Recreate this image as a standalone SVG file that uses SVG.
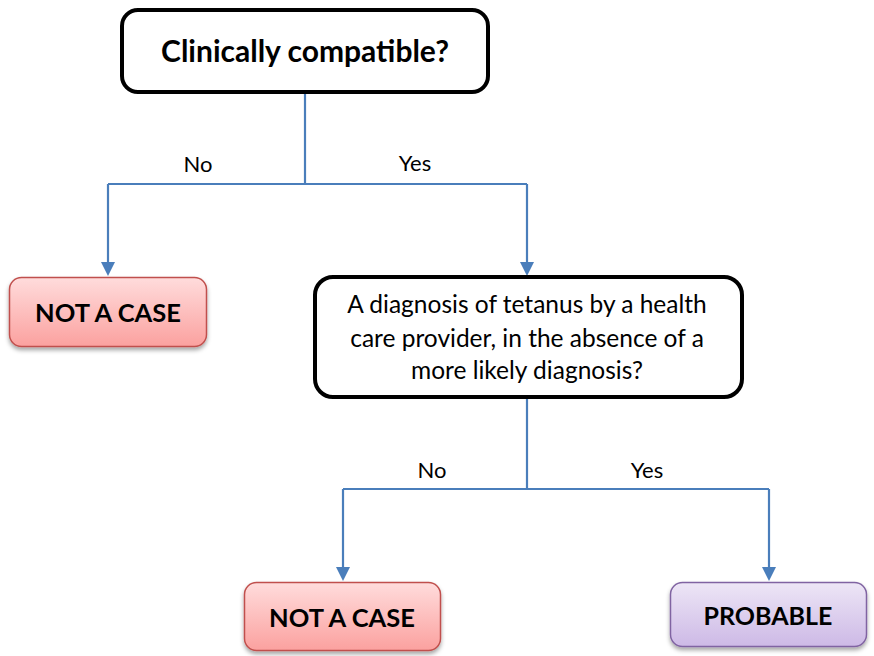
<svg xmlns="http://www.w3.org/2000/svg" width="874" height="656" viewBox="0 0 874 656">
<style>
.dec{fill:#fff;stroke:#000;stroke-width:4}
.t{font-family:Lato,"Liberation Sans",sans-serif;fill:#000;text-anchor:middle}
.b{font-weight:bold}
.lbl{font-size:22px}
.conn{fill:none;stroke:#4a7ebb;stroke-width:2.2}
.red{fill:url(#gr);stroke:#c0504d;stroke-width:1.5}
.pur{fill:url(#gp);stroke:#8064a2;stroke-width:1.5}
</style>
<defs>
<linearGradient id="gr" x1="0" y1="0" x2="0" y2="1"><stop offset="0" stop-color="#ffdcdc"/><stop offset="1" stop-color="#fba19f"/></linearGradient>
<linearGradient id="gp" x1="0" y1="0" x2="0" y2="1"><stop offset="0" stop-color="#ede6f6"/><stop offset="1" stop-color="#cdb9e6"/></linearGradient>
<filter id="sh" x="-10%" y="-10%" width="130%" height="140%"><feDropShadow dx="0" dy="3" stdDeviation="2" flood-color="#000" flood-opacity="0.35"/></filter>
</defs>
<rect width="874" height="656" fill="#fff"/>
<g id="connectors">
<path class="conn" d="M305,93 V184"/>
<path class="conn" d="M108,184 H527"/>
<path d="M108,184 V262" class="conn"/>
<path d="M101,262 L115,262 L108,276 Z" fill="#4a7ebb"/>
<path d="M527,184 V262" class="conn"/>
<path d="M520,262 L534,262 L527,276 Z" fill="#4a7ebb"/>
<path class="conn" d="M527,398 V489"/>
<path class="conn" d="M343,489 H769"/>
<path class="conn" d="M343,489 V567"/>
<path d="M336,567 L350,567 L343,581 Z" fill="#4a7ebb"/>
<path class="conn" d="M769,489 V567"/>
<path d="M762,567 L776,567 L769,581 Z" fill="#4a7ebb"/>
<text class="t lbl" x="198" y="172">No</text>
<text class="t lbl" x="415" y="171">Yes</text>
<text class="t lbl" x="432" y="478">No</text>
<text class="t lbl" x="647" y="478">Yes</text>
</g>
<g id="n1">
<rect class="dec" x="122" y="10" width="366" height="82" rx="16"/>
<text class="t b" x="305" y="62" font-size="30">Clinically compatible?</text>
</g>
<g id="n2">
<rect class="red" x="9.5" y="277.5" width="197" height="69" rx="12" filter="url(#sh)"/>
<text class="t b" x="108" y="322" font-size="25.5">NOT A CASE</text>
</g>
<g id="n3">
<rect class="dec" x="315" y="277" width="427" height="120" rx="18"/>
<text class="t" x="527" y="313" font-size="24.5">A diagnosis of tetanus by a health</text>
<text class="t" x="527" y="347" font-size="24.5">care provider, in the absence of a</text>
<text class="t" x="527" y="379" font-size="24.5">more likely diagnosis?</text>
</g>
<g id="n4">
<rect class="red" x="244.5" y="582.5" width="196" height="68" rx="12" filter="url(#sh)"/>
<text class="t b" x="342" y="627" font-size="25.5">NOT A CASE</text>
</g>
<g id="n5">
<rect class="pur" x="670.5" y="582.5" width="196" height="64" rx="12" filter="url(#sh)"/>
<text class="t b" x="768" y="625" font-size="25">PROBABLE</text>
</g>
</svg>
